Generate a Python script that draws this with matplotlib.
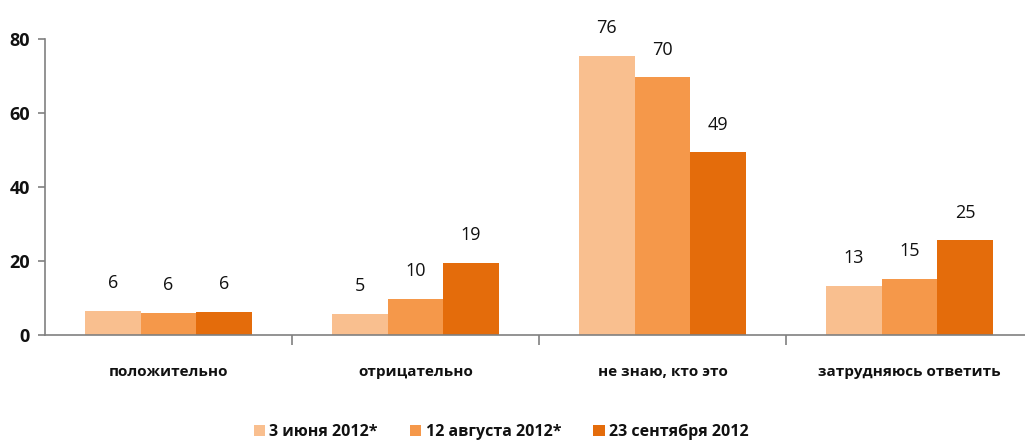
import matplotlib
matplotlib.use("Agg")
import matplotlib.pyplot as plt
import numpy as np
from matplotlib.patches import Patch

categories = ["положительно", "отрицательно", "не знаю, кто это", "затрудняюсь ответить"]
series_names = ["3 июня 2012*", "12 августа 2012*", "23 сентября 2012"]
june = [6.3, 5.5, 75.5, 13.1]
august = [5.8, 9.6, 69.6, 15.0]
september = [6.1, 19.4, 49.3, 25.5]
june_labels = [6, 5, 76, 13]
august_labels = [6, 10, 70, 15]
september_labels = [6, 19, 49, 25]
yticks = [0, 20, 40, 60, 80]

colors = ["#F9BF8F", "#F5984A", "#E46C0B"]
series = [june, august, september]
labels = [june_labels, august_labels, september_labels]

fig = plt.figure(figsize=(10.25, 4.4), dpi=100)
ax = fig.add_axes([45/1025, 105.5/440, 988/1025, 295.5/440])

x = np.arange(len(categories))
w = 0.225
for i, (vals, labs, c) in enumerate(zip(series, labels, colors)):
    pos = x + (i - 1) * w
    ax.bar(pos, vals, width=w, color=c, linewidth=0, zorder=2)
    for p, v, l in zip(pos, vals, labs):
        ax.annotate(str(l), (p, v), xytext=(0, 20), textcoords="offset points",
                    ha="center", va="center", fontsize=13, family="Open Sans",
                    color="#111111")

ax.set_xlim(-0.5, len(categories) - 0.5)
ax.set_ylim(0, 80)
ax.set_yticks(yticks)
ax.set_yticklabels([str(t) for t in yticks], fontsize=13, fontweight="bold",
                   family="Open Sans", color="#111111")
ax.set_xticks(x)
ax.set_xticklabels(categories, fontsize=11, fontweight="bold", family="Open Sans",
                   color="#111111")
ax.set_xticks(np.arange(0.5, len(categories) - 0.5, 1), minor=True)
ax.tick_params(axis="x", which="major", length=0, pad=22)
ax.tick_params(axis="x", which="minor", length=7, color="#808080", width=1.2)
ax.tick_params(axis="y", length=5, color="#808080", width=1.2, pad=6)

for s in ["top", "right"]:
    ax.spines[s].set_visible(False)
for s in ["left", "bottom"]:
    ax.spines[s].set_color("#808080")
    ax.spines[s].set_linewidth(1.2)

handles = [Patch(facecolor=c, edgecolor="none") for c in colors]
leg = fig.legend(handles, series_names, loc="lower center", bbox_to_anchor=(0.489, -0.033),
                 ncol=3, frameon=False, handlelength=0.7, handleheight=0.7,
                 handletextpad=0.3, columnspacing=2.0,
                 prop={"family": "Open Sans", "weight": "bold", "size": 11.5})
for t in leg.get_texts():
    t.set_color("#111111")

fig.savefig("out.png", dpi=100)
